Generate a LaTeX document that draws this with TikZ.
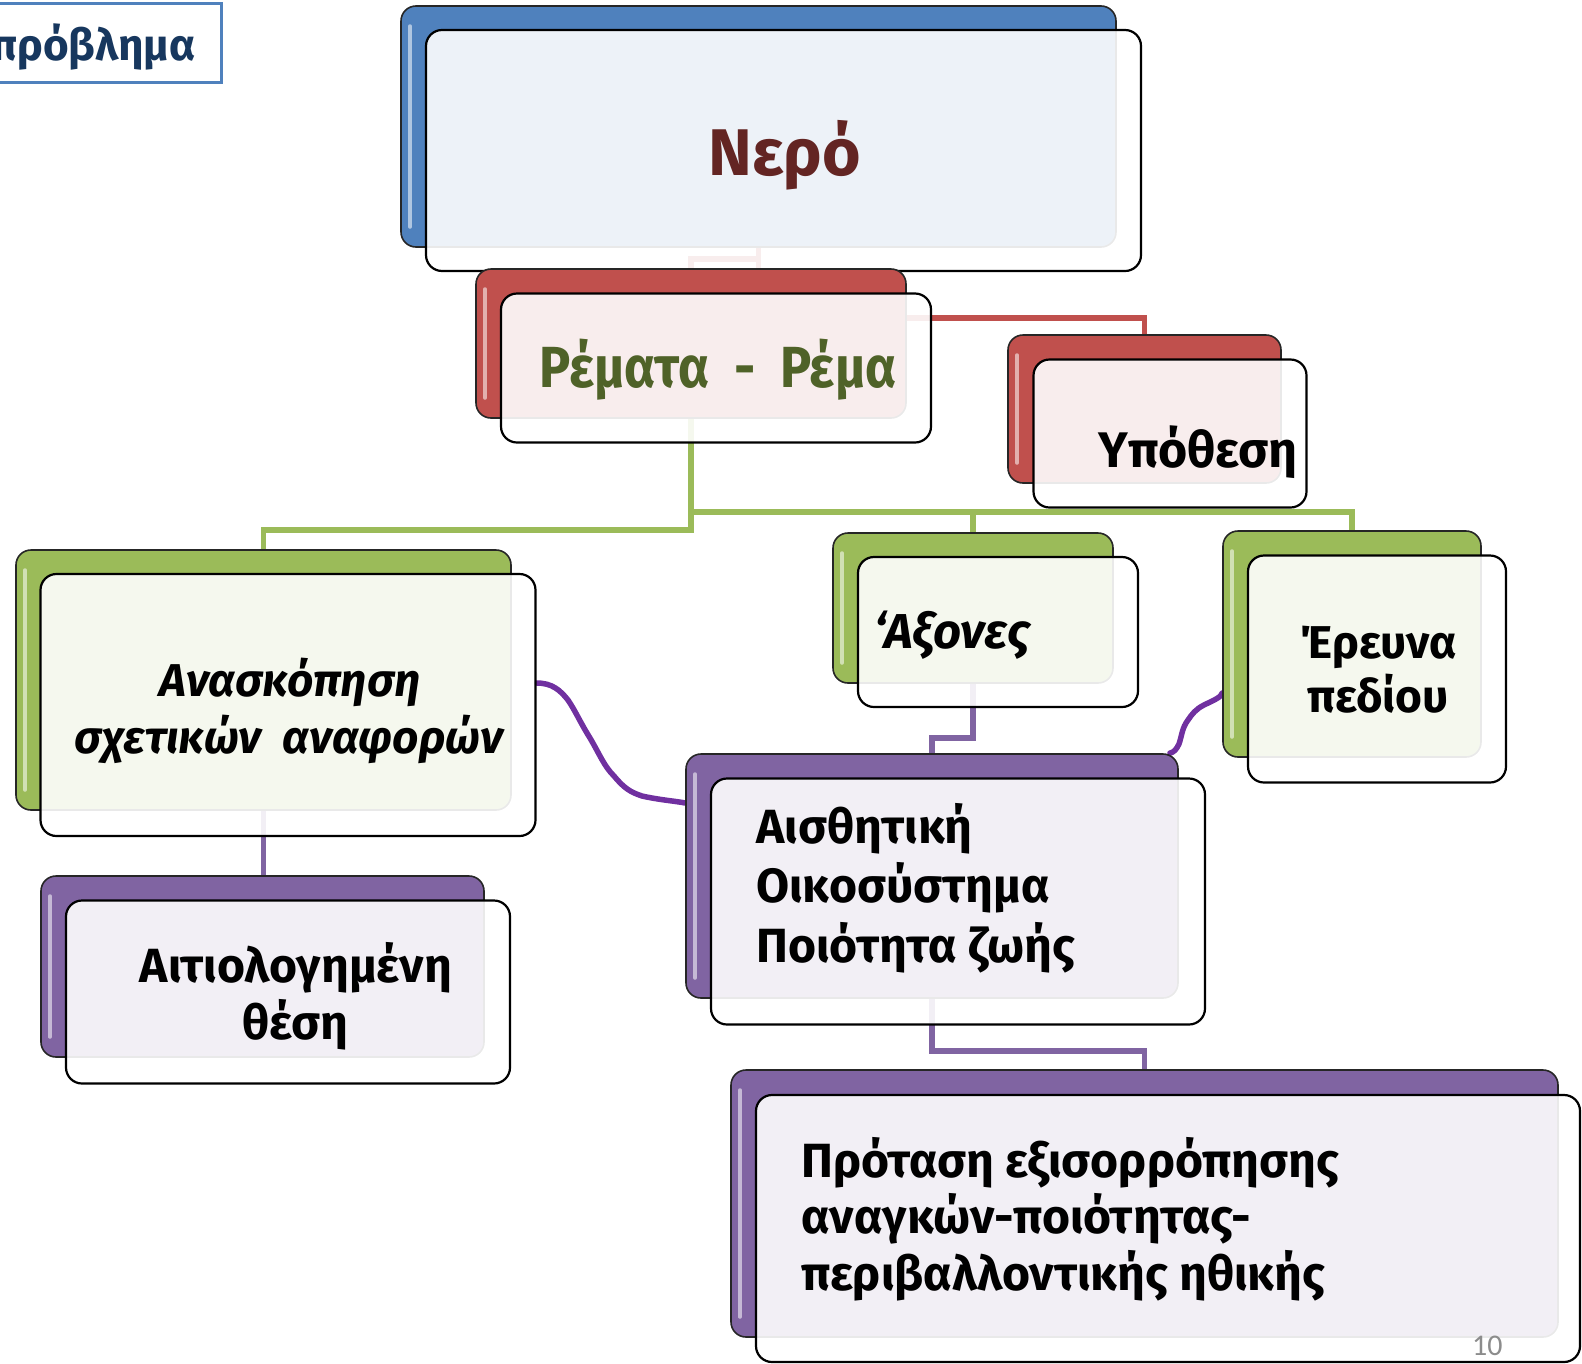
\documentclass[tikz,border=0pt]{standalone}
\usepackage{fontspec}
\setmainfont{Fira Sans}
\newfontfamily\numfont{Carlito}
\pgfdeclarelayer{bg}
\pgfsetlayers{bg,main}
\definecolor{accBlue}{HTML}{4F81BD}
\definecolor{accRed}{HTML}{C0504D}
\definecolor{accGreen}{HTML}{9BBB59}
\definecolor{accPurple}{HTML}{8064A2}
\definecolor{wavyPurple}{HTML}{7030A0}
\definecolor{darkRed}{HTML}{632523}
\definecolor{oliveTxt}{HTML}{4F6228}
\definecolor{navyTxt}{HTML}{17375E}
\tikzset{
  backbox/.style={draw=black!85, line width=1.6pt, rounded corners=15pt, inner sep=0pt,
    path picture={\draw[white, opacity=0.55, line width=3.5pt, line cap=round]
      ([xshift=9pt,yshift=-20pt]path picture bounding box.north west) --
      ([xshift=9pt,yshift=20pt]path picture bounding box.south west);}},
  frontbox/.style={draw=black, line width=2.2pt, rounded corners=16pt, fill=white, fill opacity=0.9, inner sep=0pt},
  conn/.style={line width=5.5pt},
  wavyline/.style={draw=wavyPurple, line width=5.5pt, line cap=round, line join=round},
  txt/.style={inner sep=0pt, font=\bfseries},
}
\begin{document}
\begin{tikzpicture}[x=1pt,y=-1pt]
\useasboundingbox (0,0) rectangle (1582,1363);
% title label
\node[draw=accBlue, line width=3pt, fill=white, minimum width=236pt, minimum height=79pt, inner sep=0pt] (lbl) at (103,42.5) {};
\node[txt, anchor=base east, text=navyTxt, font=\bfseries\fontsize{44}{50}\selectfont] (lblT) at (196,60) {πρόβλημα};

% boxes: back (colored) and front (white, translucent)
\node[backbox, fill=accBlue, minimum width=715pt, minimum height=241pt] (nB) at (758.5,126.5) {};
\node[frontbox, minimum width=715pt, minimum height=241pt] (nF) at (783.5,150.5) {};

\node[backbox, fill=accRed, minimum width=430pt, minimum height=149pt] (rB) at (691,343.5) {};
\node[frontbox, minimum width=430pt, minimum height=149pt] (rF) at (716,368) {};

\node[backbox, fill=accRed, minimum width=273pt, minimum height=148pt] (hB) at (1144.5,409) {};
\node[frontbox, minimum width=273pt, minimum height=148pt] (hF) at (1170,433.5) {};

\node[backbox, fill=accGreen, minimum width=495pt, minimum height=260pt] (aB) at (263.5,680) {};
\node[frontbox, minimum width=495pt, minimum height=262pt] (aF) at (288,705) {};

\node[backbox, fill=accGreen, minimum width=280pt, minimum height=150pt] (xB) at (973,608) {};
\node[frontbox, minimum width=280pt, minimum height=150pt] (xF) at (998,632) {};

\node[backbox, fill=accGreen, minimum width=258pt, minimum height=226pt] (eB) at (1352,644) {};
\node[frontbox, minimum width=258pt, minimum height=227pt] (eF) at (1377,669) {};

\node[backbox, fill=accPurple, minimum width=492pt, minimum height=244pt] (sB) at (932,876) {};
\node[frontbox, minimum width=494pt, minimum height=246pt] (sF) at (958,901.5) {};

\node[backbox, fill=accPurple, minimum width=443pt, minimum height=181pt] (tB) at (262.5,966.5) {};
\node[frontbox, minimum width=444pt, minimum height=183pt] (tF) at (288,992) {};

\node[backbox, fill=accPurple, minimum width=827pt, minimum height=267pt] (pB) at (1144.5,1203.5) {};
\node[frontbox, minimum width=824pt, minimum height=267pt] (pF) at (1168,1228.5) {};

% connectors (behind boxes)
\begin{pgfonlayer}{bg}
\draw[conn, accRed] (nB.south) -- ++(0,11) -| (rB.north);
\draw[conn, accRed] (nB.south) -- ++(0,70) -| (hB.north);
\draw[conn, accGreen] (rB.south) -- ++(0,111) -| (aB.north);
\draw[conn, accGreen] (rB.south) -- ++(0,93) -| (xB.north);
\draw[conn, accGreen] (rB.south) -- ++(0,93) -| (eB.north);
\draw[conn, accPurple] (xB.south) -- ++(0,54) -| (sB.north);
\draw[conn, accPurple] (aB.south) -- (aB.south |- tB.north);
\draw[conn, accPurple] (sB.south) -- ++(0,52) -| (pB.north);
\draw[wavyline] ([yshift=22pt]aF.east) .. controls (552,683) and (560,690) .. (568,700)
   .. controls (576,712) and (580,722) .. (590,738)
   .. controls (600,755) and (604,766) .. (614,776)
   .. controls (624,788) and (630,792) .. (642,796)
   .. controls (660,800) and (675,801) .. ([yshift=73pt]sB.west);
\draw[wavyline] ([yshift=-49pt]eB.west) .. controls (1222,697) and (1212,701) .. (1204,705)
   .. controls (1196,709) and (1192,714) .. (1188,720)
   .. controls (1182,728) and (1182,735) .. (1179,744)
   .. controls (1176,750) and (1174,752) .. ([xshift=-9pt]sB.north east);
\end{pgfonlayer}

% texts
\node[txt, anchor=base, text=darkRed, font=\bfseries\fontsize{66}{76}\selectfont] (tNero) at (785,175) {Νερό};
\node[txt, anchor=base, text=oliveTxt, font=\bfseries\fontsize{58}{66}\selectfont] (tRema) at (718,387) {\scalebox{0.9}[1]{Ρέματα\ \ -\ \ Ρέμα}};
\node[txt, anchor=base, font=\bfseries\fontsize{50}{60}\selectfont] (tHyp) at (1198,467) {Υπόθεση};

\node[txt, anchor=base, font=\bfseries\itshape\fontsize{46}{56}\selectfont] (tAna1) at (290,696) {Ανασκόπηση};
\node[txt, anchor=base, font=\bfseries\itshape\fontsize{46}{56}\selectfont] (tAna2) at (289,753) {σχετικών\ \ αναφορών};

\node[txt, anchor=base west, font=\bfseries\itshape\fontsize{49}{58}\selectfont] (tAx) at (874,648) {‘Αξονες};

\node[txt, anchor=base, font=\bfseries\fontsize{46}{56}\selectfont] (tEr1) at (1378,658) {Έρευνα};
\node[txt, anchor=base, font=\bfseries\fontsize{46}{56}\selectfont] (tEr2) at (1378,712) {πεδίου};

\node[txt, anchor=base west, font=\bfseries\fontsize{48}{58}\selectfont] (tS1) at (756,843) {Αισθητική};
\node[txt, anchor=base west, font=\bfseries\fontsize{48}{58}\selectfont] (tS2) at (756,902) {Οικοσύστημα};
\node[txt, anchor=base west, font=\bfseries\fontsize{48}{58}\selectfont] (tS3) at (756,962) {Ποιότητα ζωής};

\node[txt, anchor=base, font=\bfseries\fontsize{48}{58}\selectfont] (tT1) at (296,982) {Αιτιολογημένη};
\node[txt, anchor=base, font=\bfseries\fontsize{48}{58}\selectfont] (tT2) at (295,1039) {θέση};

\node[txt, anchor=base west, font=\bfseries\fontsize{48}{58}\selectfont] (tP1) at (801,1177) {Πρόταση εξισορρόπησης};
\node[txt, anchor=base west, font=\bfseries\fontsize{48}{58}\selectfont] (tP2) at (801,1233) {αναγκών-ποιότητας-};
\node[txt, anchor=base west, font=\bfseries\fontsize{48}{58}\selectfont] (tP3) at (801,1290) {περιβαλλοντικής ηθικής};

\node[inner sep=0pt, anchor=base west, text=black!45, font=\numfont\fontsize{30}{34}\selectfont] (pg) at (1472,1355) {10};
\end{tikzpicture}
\end{document}
